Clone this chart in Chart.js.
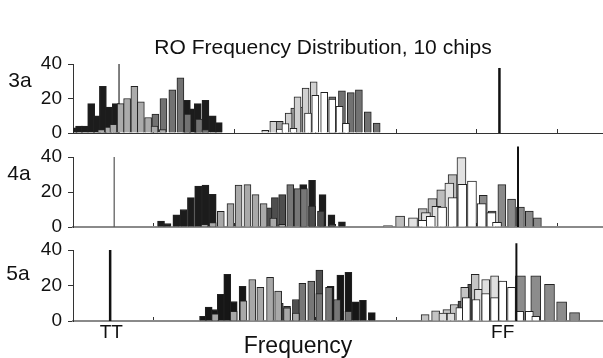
<!DOCTYPE html>
<html>
<head>
<meta charset="utf-8">
<script src="https://cdn.jsdelivr.net/npm/chart.js@4.4.1/dist/chart.umd.min.js"></script>
<style>
html,body{margin:0;padding:0;background:#fff;}
#wrap{position:relative;width:603px;height:358px;overflow:hidden;font-family:"Liberation Sans",Arial,sans-serif;color:#111;}
#wrap canvas{position:absolute;left:0;}
.lbl{position:absolute;transform:translate(-50%,-50%);line-height:1;white-space:nowrap;}
</style>
</head>
<body>
<div id="wrap">
  <canvas id="c3a" width="603" height="140" style="top:0"></canvas>
  <canvas id="c4a" width="603" height="94" style="top:140px"></canvas>
  <canvas id="c5a" width="603" height="124" style="top:234px"></canvas>
  <div class="lbl" style="left:323px;top:46px;font-size:21px">RO Frequency Distribution, 10 chips</div>
  <div class="lbl" style="left:20px;top:79px;font-size:21px">3a</div>
  <div class="lbl" style="left:19px;top:172px;font-size:21px">4a</div>
  <div class="lbl" style="left:18px;top:272px;font-size:21px">5a</div>
  <div class="lbl" style="left:298px;top:345px;font-size:23px">Frequency</div>
</div>
<script>
/* ═══ DATA (x in bin units, y = count) ══════════════════ */
const X_MAX = 65.5;
const Y_TICKS = [0, 10, 20, 30, 40];
const Y_LABELS = [0, 20, 40];
const X_LABELS = ['TT', 'FF'];
const X_LABEL_POS = [4.75, 53.2];

// marker lines per panel: 3a, 4a, 5a
const TT_POS = [5.7, 5.1, 4.6];
const TT_TOP = [40, 40, 40];
const FF_POS = [52.8, 55.1, 54.9];
const FF_TOP = [37.7, 46, 43.8];

// panel 3a
const P3_BLACK = [[0.1,3],[0.75,4],[1.45,4],[2.25,17],[2.95,10],[3.7,27],[4.4,15],[5.3,17],[14.1,19],[14.8,14],[15.45,17],[16.4,19],[17.3,10],[18.05,6]];
const P3_GRAY  = [[10.2,11],[11.2,20],[12.3,25],[13.3,32],[14.2,11],[15.6,8],[16.4,2],[32.1,21],[33.3,24.5],[34.4,23.4],[35.4,25],[36.5,12.3],[37.6,5.8]];
const P3_MID   = [[25.6,6.7],[27.4,14.5],[28.3,15]];
const P3_LIGHT = [[3.5,2],[4.4,3.5],[5.0,5],[5.9,17],[6.7,20],[7.6,27],[8.4,18],[9.3,9],[10.1,4],[11.1,2]];
const P3_PALE  = [[23.8,1.5],[24.8,6.7],[26.7,11.6],[27.8,21],[28.8,26],[29.8,29.6]];
const P3_WHITE = [[25.6,2.3],[26.3,5.5],[27.3,2.7],[29.1,11.6],[30.0,21.8],[31.1,23.6],[32.1,19.7],[33.0,15.4],[33.8,5.6]];

// panel 4a
const P4_BLACK = [[10.9,3.4],[11.7,2],[12.8,6.9],[13.7,10],[14.6,16.8],[15.5,23.4],[16.4,24],[17.3,18.7],[28.5,24.2],[29.6,26.7],[30.9,18.5],[32.0,7],[33.3,3]];
const P4_DARK  = [[24.3,10.9],[25.0,16.8],[25.9,18.5],[29.6,12],[30.7,9.1],[32.1,1.5]];
const P4_MID   = [[26.9,24.2],[27.8,21.9],[28.6,21.9]];
const P4_GRAY  = [[50.8,18.1],[51.9,9.1],[53.1,24.2],[54.3,16],[55.4,11.4],[56.5,9.1],[57.5,5.3]];
const P4_LIGHT = [[16.3,1.5],[17.3,2.5],[18.3,9],[19.5,13.4],[20.5,24],[21.6,24.2],[22.6,18.5],[23.6,13.4],[24.8,5.1],[25.9,1.5]];
const P4_SILVER= [[39.0,0.8],[40.5,6.3],[43.3,10.5],[44.5,16.2],[45.6,21.3],[47.0,29.9]];
const P4_PALE  = [[42.1,5.3],[43.7,8.2],[45.0,11.8],[46.6,25.1],[48.1,39.6]];
const P4_WHITE = [[43.3,3.8],[44.3,6.1],[45.7,11.4],[47.0,16.8],[48.2,24.4],[49.4,26.3],[50.6,13.4],[51.8,8.2],[52.5,2.6]];

// panel 5a
const P5_BLACK = [[16.1,2.6],[16.8,7.9],[17.6,6.5],[18.3,15],[19.1,26.3],[19.9,11],[21.0,19.6],[31.9,19.6],[33.1,25.9],[34.1,27.4],[35.0,10.8],[35.9,11.7],[37.0,4.7]];
const P5_DARK  = [[25.6,10],[26.5,8.3],[27.6,12.1],[30.5,28.7],[48.1,11.2],[49.3,20.6],[52.6,22.5]];
const P5_MID   = [[28.4,21.2],[29.5,22.5],[30.5,15.5],[31.7,18.9],[32.7,12.1],[34.1,5.5]];
const P5_GRAY  = [[55.4,25.5],[57.3,25.5],[59.0,20.6],[60.5,10.8],[62.1,4.7]];
const P5_LIGHT = [[17.6,4],[19.9,5.5],[21.1,11.3],[22.2,23.4],[23.2,18.9],[24.4,24.6],[25.4,16.8],[26.5,7.4],[27.6,4.5]];
const P5_SILVER= [[43.6,3.6],[44.9,5.7],[46.3,6.4],[47.2,9.3],[48.5,18.9],[49.8,26.3]];
const P5_PALE  = [[45.8,4.5],[46.8,4.5],[50.2,17.8],[51.1,23.4],[52.2,25.5]];
const P5_WHITE = [[47.9,7.6],[48.7,13.2],[49.9,12.1],[51.1,15.5],[52.2,13.2],[53.2,22.5],[54.3,18.9],[55.3,5.5],[56.5,5.5],[57.3,2.7]];

/* ═══ HELPERS ══════════════════════════════════════════ */
const FONT = 'Liberation Sans, Arial, sans-serif';

// series listed dark -> light; lighter ones are drawn on top
function bars(list) {
  return list.map((s, i) => ({
    type:'bar', data:s[0].map(p => ({x:p[0], y:p[1]})),
    backgroundColor:s[1], borderColor:'#222', borderWidth:1,
    barThickness:s[2] || 7, grouped:false, order:50 - i
  }));
}
function vline(x, top, color, width, behind) {
  return {type:'line', data:[{x, y:0}, {x, y:top}], borderColor:color, borderWidth:width,
    pointRadius:0, clip:false, order: behind ? 100 : 0};
}

function panel(id, datasets, o) {
  const isLast = !!o.labels;
  new Chart(document.getElementById(id), {
    type:'bar',
    data:{datasets},
    options:{
      responsive:false, animation:false,
      layout:{padding:{top:o.top, right:1, left:0, bottom:0}},
      plugins:{legend:{display:false}, tooltip:{enabled:false}, title:{display:false}},
      scales:{
        x:{type:'linear', min:0, max:X_MAX, offset:false,
          afterBuildTicks: s => {
            const t = [0,10,20,30,40,50,60];
            if (isLast) X_LABEL_POS.forEach(v => t.push(v));
            s.ticks = t.sort((a,b)=>a-b).map(v => ({value:v}));
          },
          afterFit: s => { s.height = o.xh; s.paddingLeft = 0; s.paddingRight = 0; },
          ticks:{display:isLast, autoSkip:false, maxRotation:0, padding:4, color:'#111',
            font:{family:FONT, size:19},
            callback: v => { const i = X_LABEL_POS.indexOf(v); return i >= 0 ? X_LABELS[i] : ''; }},
          grid:{drawOnChartArea:false, offset:false, tickLength:-4, lineWidth:1,
            color: c => (c.tick && X_LABEL_POS.includes(c.tick.value)) ? 'rgba(0,0,0,0)' : '#333'},
          border:{color:o.xColor, width:o.xWidth}
        },
        y:{min:0, max:40,
          afterBuildTicks: s => { s.ticks = Y_TICKS.map(v => ({value:v})); },
          afterFit: s => { s.width = 73; s.paddingTop = 0; s.paddingBottom = 0; },
          ticks:{padding:6, color:'#111', font:{family:FONT, size:19},
            callback: v => Y_LABELS.includes(v) ? String(v) : ''},
          grid:{drawOnChartArea:false, tickLength:5, color:'#333'},
          border:{color:'#333', width:1}
        }
      }
    }
  });
}

/* ═══ PANELS ═══════════════════════════════════════════ */
panel('c3a', [
  ...bars([[P3_BLACK,'#1c1c1c'],[P3_GRAY,'#727272'],[P3_MID,'#9c9c9c'],[P3_LIGHT,'#ababab'],[P3_PALE,'#d0d0d0'],[P3_WHITE,'#ffffff']]),
  vline(TT_POS[0], TT_TOP[0], '#555', 1.5, true),
  vline(FF_POS[0], FF_TOP[0], '#111', 2.5, false)
], {top:64, xh:7, xColor:'#333', xWidth:1});

panel('c4a', [
  ...bars([[P4_BLACK,'#1c1c1c'],[P4_DARK,'#4e4e4e'],[P4_MID,'#777777'],[P4_GRAY,'#8a8a8a',8],[P4_LIGHT,'#a9a9a9'],[P4_SILVER,'#bdbdbd',9],[P4_PALE,'#e2e2e2',9],[P4_WHITE,'#ffffff',9]]),
  vline(TT_POS[1], TT_TOP[1], '#555', 1.2, true),
  vline(FF_POS[1], FF_TOP[1], '#111', 2, false)
], {top:17, xh:7, xColor:'#8a8a8a', xWidth:2});

panel('c5a', [
  ...bars([[P5_BLACK,'#161616'],[P5_DARK,'#505050'],[P5_MID,'#777777'],[P5_GRAY,'#8c8c8c',10],[P5_LIGHT,'#a8a8a8'],[P5_SILVER,'#c4c4c4',8],[P5_PALE,'#dedede',8],[P5_WHITE,'#ffffff',8]]),
  vline(TT_POS[2], TT_TOP[2], '#111', 2.5, false),
  vline(FF_POS[2], FF_TOP[2], '#111', 2, false)
], {top:16, xh:37, xColor:'#8a8a8a', xWidth:2, labels:true});
</script>
</body>
</html>
